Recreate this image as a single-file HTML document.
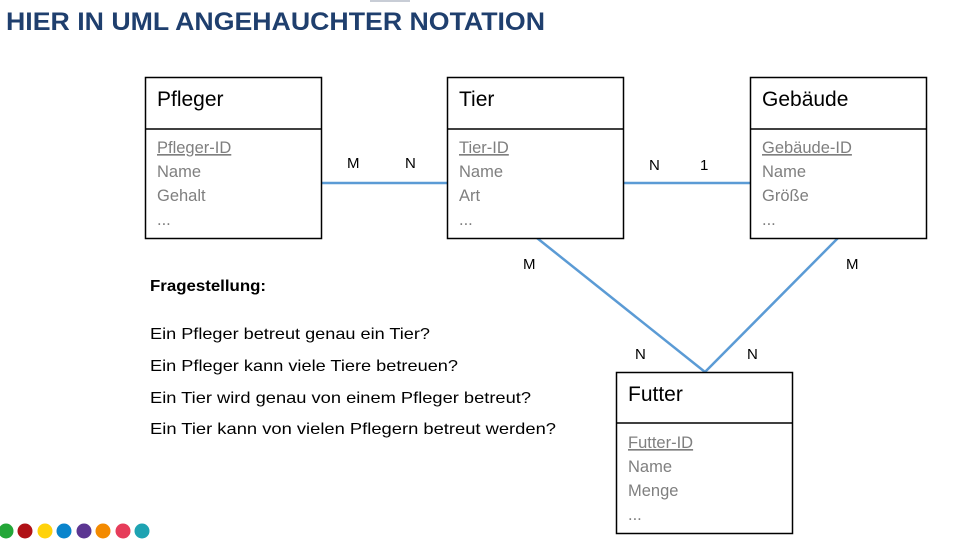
<!DOCTYPE html>
<html><head><meta charset="utf-8"><style>
html,body{margin:0;padding:0;background:#fff;}
svg{display:block;}
text{font-family:"Liberation Sans",sans-serif;}
.h{font-size:21px;fill:#000;}
.a{font-size:16.5px;fill:#7f7f7f;}
.c{font-size:15px;fill:#000;}
.q{font-size:16px;fill:#000;}
</style></head><body>
<svg width="953" height="556" viewBox="0 0 953 556">
<rect x="370" y="0" width="40" height="2" fill="#c8cdd6"/>
<text x="6" y="30" font-size="25" font-weight="bold" fill="#1f3f6e" textLength="539" lengthAdjust="spacingAndGlyphs">HIER IN UML ANGEHAUCHTER NOTATION</text>
<g stroke="#5b9bd5" stroke-width="2.5" fill="none">
<line x1="321" y1="183" x2="447" y2="183"/>
<line x1="623" y1="183" x2="750" y2="183"/>
<line x1="537" y1="238" x2="705" y2="372"/>
<line x1="838" y1="238" x2="705" y2="372"/>
</g>
<g fill="#fff" stroke="#000" stroke-width="1.5">
<rect x="145.5" y="77.5" width="176" height="161"/><line x1="145" y1="129" x2="321" y2="129"/>
<rect x="447.5" y="77.5" width="176" height="161"/><line x1="447" y1="129" x2="623" y2="129"/>
<rect x="750.5" y="77.5" width="176" height="161"/><line x1="750" y1="129" x2="926" y2="129"/>
<rect x="616.5" y="372.5" width="176" height="161"/><line x1="616" y1="423" x2="792" y2="423"/>
</g>
<text class="h" x="157" y="106">Pfleger</text>
<text class="a" x="157" y="153" text-decoration="underline">Pfleger-ID</text>
<text class="a" x="157" y="177">Name</text>
<text class="a" x="157" y="201">Gehalt</text>
<text class="a" x="157" y="225">...</text>
<text class="h" x="459" y="106">Tier</text>
<text class="a" x="459" y="153" text-decoration="underline">Tier-ID</text>
<text class="a" x="459" y="177">Name</text>
<text class="a" x="459" y="201">Art</text>
<text class="a" x="459" y="225">...</text>
<text class="h" x="762" y="106">Gebäude</text>
<text class="a" x="762" y="153" text-decoration="underline">Gebäude-ID</text>
<text class="a" x="762" y="177">Name</text>
<text class="a" x="762" y="201">Größe</text>
<text class="a" x="762" y="225">...</text>
<text class="h" x="628" y="401">Futter</text>
<text class="a" x="628" y="448" text-decoration="underline">Futter-ID</text>
<text class="a" x="628" y="472">Name</text>
<text class="a" x="628" y="496">Menge</text>
<text class="a" x="628" y="520">...</text>
<text class="c" x="347" y="168">M</text>
<text class="c" x="405" y="168">N</text>
<text class="c" x="649" y="170">N</text>
<text class="c" x="700" y="170">1</text>
<text class="c" x="523" y="269">M</text>
<text class="c" x="846" y="269">M</text>
<text class="c" x="635" y="359">N</text>
<text class="c" x="747" y="359">N</text>
<text class="q" x="150" y="291" font-weight="bold" textLength="116" lengthAdjust="spacingAndGlyphs">Fragestellung:</text>
<text class="q" x="150" y="339" textLength="280" lengthAdjust="spacingAndGlyphs">Ein Pfleger betreut genau ein Tier?</text>
<text class="q" x="150" y="371" textLength="308" lengthAdjust="spacingAndGlyphs">Ein Pfleger kann viele Tiere betreuen?</text>
<text class="q" x="150" y="403" textLength="381" lengthAdjust="spacingAndGlyphs">Ein Tier wird genau von einem Pfleger betreut?</text>
<text class="q" x="150" y="434" textLength="406" lengthAdjust="spacingAndGlyphs">Ein Tier kann von vielen Pflegern betreut werden?</text>
<g>
<circle cx="6" cy="531" r="7.5" fill="#23a638"/>
<circle cx="25" cy="531" r="7.5" fill="#b01116"/>
<circle cx="45" cy="531" r="7.5" fill="#ffd20a"/>
<circle cx="64" cy="531" r="7.5" fill="#0984cc"/>
<circle cx="84" cy="531" r="7.5" fill="#5c3692"/>
<circle cx="103" cy="531" r="7.5" fill="#f38a00"/>
<circle cx="123" cy="531" r="7.5" fill="#e63c5a"/>
<circle cx="142" cy="531" r="7.5" fill="#1ea3b2"/>
</g>
</svg>
</body></html>
